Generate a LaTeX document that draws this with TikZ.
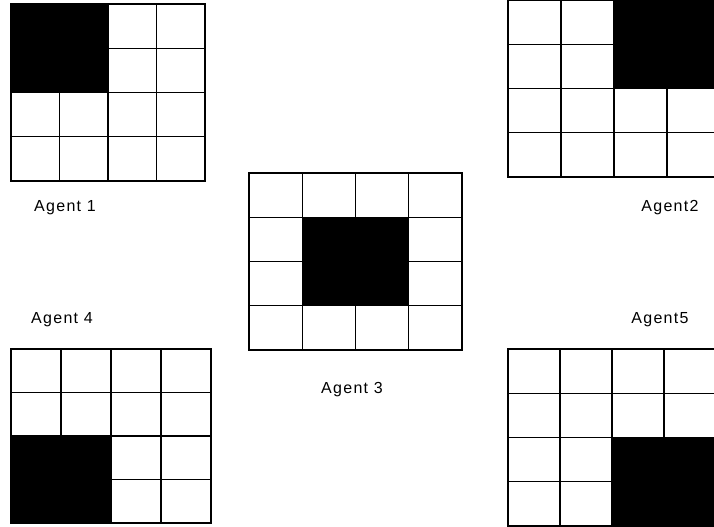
\documentclass[tikz,border=0pt]{standalone}
\usepackage{fontspec}
\setmainfont{Liberation Sans}
\newfontfamily\agentfont[LetterSpace=8]{Liberation Sans}
\usetikzlibrary{positioning}

% #1 left, #2 top, #3 cell width, #4 cell height, #5 black column, #6 black row
\newcommand{\agentgrid}[6]{%
  \fill[black] ({#1+#5*#3},{#2+#6*#4}) rectangle ++({2*#3},{2*#4});
  \foreach \i in {0,...,4} {
    \draw[gridline] ({#1+\i*#3},#2) -- ++(0,{4*#4});
    \draw[gridline] (#1,{#2+\i*#4}) -- ++({4*#3},0);
  }
}

\begin{document}
\begin{tikzpicture}[
  x=0.75pt, y=-0.75pt,
  gridline/.style={line width=1pt, line cap=rect},
  agentlabel/.style={font=\agentfont\fontsize{12}{14}\selectfont, inner sep=0pt},
]
\clip (0,0) rectangle (714,527);
\fill[white] (0,0) rectangle (714,527);

\agentgrid{11}{4}{48.5}{44.25}{0}{0}
\agentgrid{508}{0}{53}{44.25}{2}{0}
\agentgrid{249}{173}{53.25}{44.25}{1}{1}
\agentgrid{11}{349}{50}{43.5}{0}{2}
\agentgrid{508}{349}{52}{44.25}{2}{2}

\node[agentlabel] (agent1) at (65,208) {Agent 1};
\node[agentlabel] (agent2) at (670,208) {Agent2};
\node[agentlabel] (agent3) at (352,390) {Agent 3};
\node[agentlabel] (agent4) at (62,320) {Agent 4};
\node[agentlabel] (agent5) at (660,320) {Agent5};

\end{tikzpicture}
\end{document}
